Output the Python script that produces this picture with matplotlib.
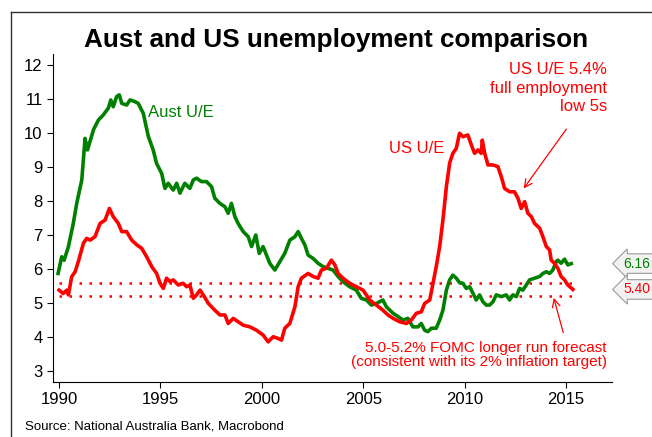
import matplotlib.pyplot as plt
from matplotlib.lines import Line2D

plt.rcParams['font.family'] = ['Liberation Sans', 'DejaVu Sans']

# Aust unemployment rate (%)
aus_years = [1989.95, 1990.13, 1990.25, 1990.46, 1990.7, 1990.87, 1991.12, 1991.28, 1991.4, 1991.7,
             1991.94, 1992.18, 1992.43, 1992.55, 1992.67, 1992.84, 1992.97, 1993.09, 1993.33, 1993.5,
             1993.74, 1993.9, 1994.15, 1994.4, 1994.64, 1994.81, 1995.06, 1995.22, 1995.38, 1995.63,
             1995.8, 1995.96, 1996.2, 1996.45, 1996.62, 1996.78, 1997.02, 1997.27, 1997.52, 1997.68,
             1997.93, 1998.18, 1998.34, 1998.5, 1998.67, 1998.83, 1999.08, 1999.33, 1999.49, 1999.7,
             1999.87, 2000.06, 2000.39, 2000.64, 2000.89, 2001.13, 2001.38, 2001.63, 2001.79, 2001.95,
             2002.12, 2002.28, 2002.53, 2002.77, 2003.02, 2003.27, 2003.51, 2003.76, 2004.0, 2004.33,
             2004.66, 2004.9, 2005.16, 2005.4, 2005.65, 2005.81, 2005.97, 2006.14, 2006.47, 2006.72,
             2006.96, 2007.2, 2007.45, 2007.7, 2007.86, 2008.03, 2008.19, 2008.36, 2008.6, 2008.77,
             2008.93, 2009.1, 2009.26, 2009.42, 2009.59, 2009.75, 2009.92, 2010.08, 2010.25, 2010.41,
             2010.57, 2010.74, 2010.9, 2011.07, 2011.23, 2011.4, 2011.56, 2011.81, 2012.05, 2012.22,
             2012.38, 2012.55, 2012.71, 2012.87, 2013.04, 2013.2, 2013.45, 2013.7, 2013.86, 2014.03,
             2014.19, 2014.35, 2014.52, 2014.6, 2014.76, 2014.93, 2015.09, 2015.26]
aus_rate = [5.87, 6.36, 6.26, 6.66, 7.34, 7.93, 8.62, 9.84, 9.5, 10.1,
            10.38, 10.53, 10.73, 10.97, 10.77, 11.07, 11.12, 10.87, 10.82, 10.97,
            10.92, 10.87, 10.58, 9.9, 9.5, 9.1, 8.81, 8.37, 8.52, 8.32,
            8.52, 8.23, 8.52, 8.37, 8.62, 8.67, 8.57, 8.57, 8.42, 8.08,
            7.93, 7.83, 7.64, 7.93, 7.54, 7.34, 7.1, 6.95, 6.66, 7.0,
            6.46, 6.66, 6.17, 5.97, 6.22, 6.46, 6.85, 6.95, 7.1, 6.9,
            6.71, 6.41, 6.31, 6.17, 6.07, 6.02, 5.97, 5.78, 5.63, 5.48,
            5.38, 5.14, 5.09, 4.94, 4.99, 5.04, 5.09, 4.89, 4.7, 4.6,
            4.5, 4.55, 4.3, 4.3, 4.4, 4.2, 4.16, 4.26, 4.26, 4.5,
            4.79, 5.38, 5.68, 5.82, 5.73, 5.6, 5.58, 5.43, 5.48, 5.29,
            5.09, 5.24, 5.04, 4.94, 4.94, 5.04, 5.24, 5.19, 5.24, 5.09,
            5.24, 5.19, 5.43, 5.38, 5.53, 5.68, 5.73, 5.78, 5.87, 5.92,
            5.87, 5.97, 6.22, 6.26, 6.17, 6.29, 6.12, 6.16]

# US unemployment rate (%)
us_years = [1990.0, 1990.2, 1990.38, 1990.46, 1990.62, 1990.79, 1990.95, 1991.2, 1991.36, 1991.53,
            1991.77, 1992.02, 1992.27, 1992.48, 1992.67, 1992.92, 1993.09, 1993.33, 1993.58, 1993.83,
            1994.07, 1994.32, 1994.57, 1994.81, 1994.98, 1995.14, 1995.3, 1995.47, 1995.63, 1995.88,
            1996.12, 1996.29, 1996.45, 1996.62, 1996.78, 1996.95, 1997.11, 1997.36, 1997.68, 1997.93,
            1998.18, 1998.34, 1998.59, 1998.83, 1999.08, 1999.41, 1999.74, 2000.06, 2000.31, 2000.56,
            2000.8, 2000.97, 2001.13, 2001.38, 2001.63, 2001.79, 2001.95, 2002.28, 2002.53, 2002.77,
            2002.94, 2003.18, 2003.43, 2003.6, 2003.76, 2004.0, 2004.33, 2004.66, 2004.99, 2005.32,
            2005.65, 2005.97, 2006.22, 2006.47, 2006.8, 2007.13, 2007.37, 2007.62, 2007.86, 2008.03,
            2008.28, 2008.44, 2008.6, 2008.77, 2008.93, 2009.1, 2009.26, 2009.42, 2009.59, 2009.75,
            2009.92, 2010.16, 2010.33, 2010.49, 2010.66, 2010.82, 2010.87, 2010.99, 2011.15, 2011.4,
            2011.64, 2011.81, 2011.97, 2012.22, 2012.46, 2012.63, 2012.79, 2012.96, 2013.12, 2013.29,
            2013.45, 2013.7, 2013.86, 2014.03, 2014.19, 2014.27, 2014.43, 2014.6, 2014.76, 2014.93,
            2015.09, 2015.34]
us_rate = [5.38, 5.28, 5.38, 5.24, 5.77, 5.92, 6.22, 6.76, 6.9, 6.85,
           6.95, 7.34, 7.44, 7.78, 7.54, 7.34, 7.1, 7.1, 6.85, 6.71,
           6.61, 6.36, 6.07, 5.87, 5.58, 5.43, 5.73, 5.63, 5.68, 5.53,
           5.58, 5.48, 5.53, 5.14, 5.24, 5.38, 5.24, 4.99, 4.79, 4.65,
           4.65, 4.4, 4.55, 4.45, 4.35, 4.3, 4.2, 4.06, 3.86, 4.01,
           3.96, 3.91, 4.26, 4.4, 4.89, 5.48, 5.73, 5.87, 5.78, 5.73,
           5.97, 6.02, 6.26, 6.12, 5.87, 5.73, 5.58, 5.48, 5.38, 5.09,
           4.94, 4.79, 4.65, 4.55, 4.45, 4.4, 4.5, 4.7, 4.74, 4.99,
           5.09, 5.58, 6.07, 6.66, 7.44, 8.42, 9.11, 9.4, 9.55, 9.99,
           9.89, 9.94, 9.65, 9.4, 9.5, 9.4, 9.79, 9.4, 9.06, 9.06,
           9.01, 8.71, 8.37, 8.27, 8.27, 8.08, 7.78, 7.98, 7.64, 7.54,
           7.34, 7.2, 6.95, 6.66, 6.56, 6.26, 6.17, 6.02, 5.78, 5.68,
           5.53, 5.40]

fomc_band = [5.6, 5.2]
x_ticks = [1990, 1995, 2000, 2005, 2010, 2015]
y_ticks = [3, 4, 5, 6, 7, 8, 9, 10, 11, 12]

green = '#008000'
red = '#ff0000'

fig = plt.figure(figsize=(6.52, 4.37), dpi=100)
ax = fig.add_axes([0.0813, 0.1259, 0.8574, 0.7505])

for lvl in fomc_band:
    ax.plot([1990, 2015.4], [lvl, lvl], color=red, lw=1.8, linestyle=(0, (1, 3)))

ax.plot(aus_years, aus_rate, color=green, lw=2.6, solid_joinstyle='round')
ax.plot(us_years, us_rate, color=red, lw=2.6, solid_joinstyle='round')

ax.set_xlim(1989.7, 2017.27)
ax.set_ylim(2.68, 12.32)
ax.set_xticks(x_ticks)
ax.set_yticks(y_ticks)
ax.tick_params(labelsize=12, length=4, width=0.8, direction='out')
for s in ['top', 'right']:
    ax.spines[s].set_visible(False)
for s in ['left', 'bottom']:
    ax.spines[s].set_linewidth(0.8)

# labels and notes
ax.text(1994.39, 10.59, 'Aust U/E', color=green, fontsize=12, ha='left', va='center')
ax.text(2008.98, 9.54, 'US U/E', color=red, fontsize=12, ha='right', va='center')
ax.text(2017.02, 11.32, 'US U/E 5.4%\nfull employment\nlow 5s', color=red, fontsize=12,
        ha='right', va='center', linespacing=1.3)
ax.text(2017.02, 3.47, '5.0-5.2% FOMC longer run forecast\n(consistent with its 2% inflation target)',
        color=red, fontsize=11, ha='right', va='center', linespacing=1.05)
ax.annotate('', xy=(2012.83, 8.30), xytext=(2015.1, 10.18),
            arrowprops=dict(arrowstyle='->', color=red, lw=0.9, mutation_scale=14))
ax.annotate('', xy=(2014.36, 5.23), xytext=(2014.9, 4.05),
            arrowprops=dict(arrowstyle='->', color=red, lw=0.9, mutation_scale=14))

# last value tags
for val, col in [(aus_rate[-1], green), (us_rate[-1], red)]:
    ax.annotate(f'{val:.2f}', xy=(1.0, val), xycoords=('axes fraction', 'data'),
                xytext=(8, 0), textcoords='offset points', color=col, fontsize=10,
                ha='left', va='center', annotation_clip=False,
                bbox=dict(boxstyle='larrow,pad=0.2', fc='#f2f2f2', ec='#999999', lw=0.8))

fig.text(0.515, 0.908, 'Aust and US unemployment comparison', fontsize=18.8, fontweight='bold',
         ha='center', va='center')
fig.text(0.038, 0.024, 'Source: National Australia Bank, Macrobond', fontsize=9.5, ha='left', va='center')

# frame around the figure
fig.add_artist(Line2D([11 / 652, 1.0], [1 - 12 / 437, 1 - 12 / 437], color='#333333', lw=1.0))
fig.add_artist(Line2D([11 / 652, 11 / 652], [0.0, 1 - 12 / 437], color='#333333', lw=1.0))

plt.savefig('out.png', dpi=100)
